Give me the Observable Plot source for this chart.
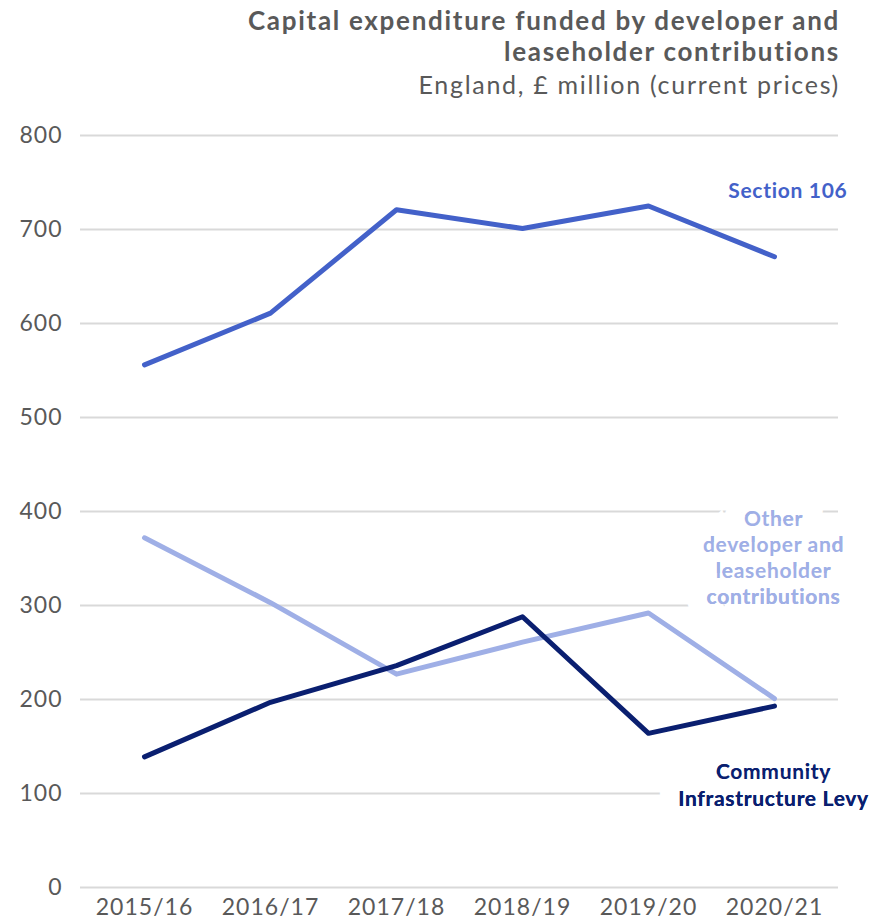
<!DOCTYPE html>
<html>
<head>
<meta charset="utf-8">
<script src="https://cdn.jsdelivr.net/npm/d3@7"></script>
<script src="https://cdn.jsdelivr.net/npm/@observablehq/plot@0.6"></script>
<style>
  body { margin: 0; background: #fff; font-family: Lato, "Noto Sans", sans-serif; }
  #wrap { width: 870px; }
  #title { height: 110px; box-sizing: border-box; padding-right: 30px; text-align: right; color: #595959; }
  #title .t { font-weight: bold; font-size: 26px; line-height: 31px; padding-top: 5px; letter-spacing: 1.7px; }
  #title .s { font-size: 25px; line-height: 35px; letter-spacing: 1.7px; }
  svg { display: block; }
  g[aria-label="text"] { letter-spacing: 0.7px; }
  g[aria-label="x-axis tick label"], g[aria-label="y-axis tick label"] { letter-spacing: 1px; }
</style>
</head>
<body>
<div id="wrap">
  <div id="title">
    <div class="t">Capital expenditure funded by developer and<br>leaseholder contributions</div>
    <div class="s">England, £ million (current prices)</div>
  </div>
  <div id="chart"></div>
</div>
<script>
const years = ["2015/16", "2016/17", "2017/18", "2018/19", "2019/20", "2020/21"];
const section106 = [556, 611, 721, 701, 725, 671];
const otherContrib = [372, 303, 227, 261, 292, 201];
const cil = [139, 197, 236, 288, 164, 193];
const yTicks = [0, 100, 200, 300, 400, 500, 600, 700, 800];

const seriesNames = ["Section 106", "Other developer and leaseholder contributions", "Community Infrastructure Levy"];
const seriesColors = ["#4361c9", "#9fafe6", "#0a1f70"];
const seriesValues = [section106, otherContrib, cil];

const data = seriesNames.flatMap((name, i) =>
  years.map((year, j) => ({ series: name, year, value: seriesValues[i][j] })));

const labelS106 = [{ text: "Section 106", year: "2020/21", value: 741, color: seriesColors[0] }];
const labelsCentered = [
  { text: "Other\ndeveloper and\nleaseholder\ncontributions", year: "2020/21", value: 352, color: seriesColors[1] },
  { text: "Community\nInfrastructure Levy", year: "2020/21", value: 110, color: seriesColors[2] }
];

const chart = Plot.plot({
  width: 870,
  height: 811,
  marginLeft: 80,
  marginRight: 32,
  marginTop: 25,
  marginBottom: 34,
  style: { fontFamily: "Lato, 'Noto Sans', sans-serif", background: "#fff", overflow: "visible" },
  x: { type: "point", domain: years, padding: 0.5 },
  y: { domain: [0, 800] },
  color: { domain: seriesNames, range: seriesColors },
  marks: [
    Plot.ruleY(yTicks, { stroke: "#d9d9d9", strokeWidth: 2 }),
    Plot.axisY({ ticks: yTicks, tickSize: 0, tickPadding: 18, fontSize: 23, color: "#595959", label: null }),
    Plot.axisX({ tickSize: 0, tickPadding: 11, fontSize: 23, color: "#595959", label: null }),
    Plot.text(labelsCentered, {
      x: "year", y: "value", text: "text", fill: "color", dx: -1,
      fontSize: 21, fontWeight: "bold", lineHeight: 1.25, stroke: "white", strokeWidth: 40, strokeLinejoin: "miter"
    }),
    Plot.text(labelsCentered, {
      x: "year", y: "value", text: "text", fill: "color", dx: -1,
      fontSize: 21, fontWeight: "bold", lineHeight: 1.25
    }),
    Plot.text(labelS106, {
      x: "year", y: "value", text: "text", fill: "color", textAnchor: "end", dx: 73,
      fontSize: 21, fontWeight: "bold"
    }),
    Plot.line(data, {
      x: "year", y: "value", z: "series", stroke: "series", strokeWidth: 5,
      strokeLinecap: "round", strokeLinejoin: "round"
    })
  ]
});
document.getElementById("chart").appendChild(chart);
</script>
</body>
</html>
